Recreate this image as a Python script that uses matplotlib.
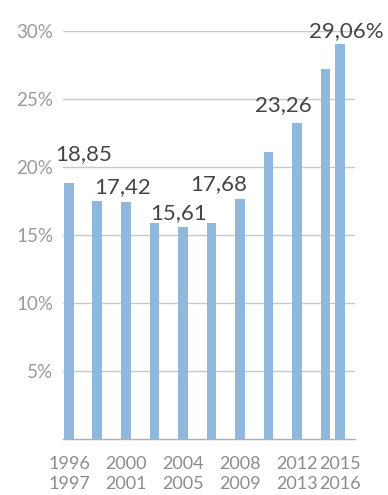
import matplotlib
matplotlib.use("Agg")
import matplotlib.pyplot as plt

# Data
years = [1996, 1998, 2000, 2002, 2004, 2006, 2008, 2010, 2012, 2014, 2015]
values = [18.85, 17.52, 17.42, 15.88, 15.61, 15.93, 17.68, 21.10, 23.26, 27.25, 29.06]
label_years = [1996, 2000, 2004, 2008, 2012, 2015]
label_texts = ["1996\n1997", "2000\n2001", "2004\n2005", "2008\n2009", "2012\n2013", "2015\n2016"]
annot_idx = [0, 2, 4, 6, 8, 10]
annot_texts = ["18,85", "17,42", "15,61", "17,68", "23,26", "29,06%"]
yticks = [5, 10, 15, 20, 25, 30]
ytick_labels = ["5%", "10%", "15%", "20%", "25%", "30%"]

plt.rcParams['font.family'] = ['Lato', 'DejaVu Sans']

fig = plt.figure(figsize=(3.88, 4.95), dpi=100)
ax = fig.add_axes([63/388, 55.7/495, (355-63)/388, (439.3-31.3)/495])

bar_color = "#8fb8dc"
ax.bar(years, values, width=0.7, color=bar_color, zorder=3)

ax.set_xlim(1995.58, 2016.07)
ax.set_ylim(0, 30)
ax.set_yticks(yticks)
ax.set_yticklabels(ytick_labels, fontsize=13.5, color="#9a9a9a")
ax.yaxis.grid(True, color="#c8c8c8", lw=1, zorder=0)
ax.tick_params(axis="y", length=0, pad=7)

ax.set_xticks(label_years)
ax.set_xticklabels(label_texts, fontsize=13, color="#8c8c8c", linespacing=1.3)
ax.tick_params(axis="x", length=0, pad=12)

for s in ["top", "right", "left"]:
    ax.spines[s].set_visible(False)
ax.spines["bottom"].set_color("#b0b0b0")
ax.spines["bottom"].set_linewidth(1)

# pixel offsets (dx, gap above bar top)
offsets = {0: (15, 23), 2: (-3, 9), 4: (-4, 8), 6: (-21, 9), 8: (-14, 12), 10: (7, 7)}
for i, t in zip(annot_idx, annot_texts):
    dx, dy = offsets[i]
    ax.annotate(t, xy=(years[i], values[i]), xytext=(dx, dy),
                textcoords="offset pixels", ha="center", va="baseline",
                fontsize=16, color="#444444", zorder=5,
                annotation_clip=False)

fig.savefig("out.png", dpi=100)
